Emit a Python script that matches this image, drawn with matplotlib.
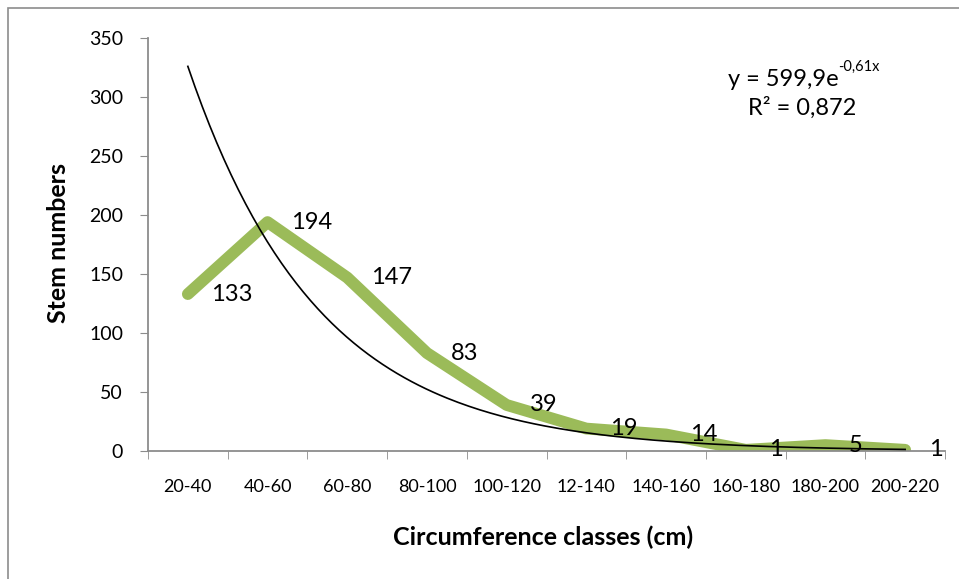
import numpy as np
import matplotlib.pyplot as plt
from matplotlib.patches import Rectangle

plt.rcParams['font.family'] = ['Lato', 'DejaVu Sans']

# 数据
classes = ['20-40', '40-60', '60-80', '80-100', '100-120', '12-140',
           '140-160', '160-180', '180-200', '200-220']
stems = [133, 194, 147, 83, 39, 19, 14, 1, 5, 1]
fit_a = 599.9
fit_b = -0.61
eq_text = 'y = 599,9e'
eq_sup = '-0,61x'
r2_text = 'R² = 0,872'

fig = plt.figure(figsize=(9.59, 5.79), dpi=100)
ax = fig.add_axes([148 / 959, 1 - 451 / 579, 797 / 959, 413 / 579])

# 外框
fig.patches.append(Rectangle((8 / 959, -0.1), 1.2, 1 - 8 / 579 + 0.1,
                             transform=fig.transFigure, fill=False,
                             edgecolor='#8c8c8c', linewidth=1.2))

x = np.arange(len(classes))
ax.plot(x, stems, color='#9bbb59', linewidth=8.5, solid_capstyle='round',
        solid_joinstyle='round', zorder=2)

# 指数趋势线
xs = np.linspace(1, len(classes), 200)
ax.plot(xs - 1, fit_a * np.exp(fit_b * xs), color='black', linewidth=1.2, zorder=3)

# 数据标签
for xi, v in zip(x, stems):
    ax.annotate(str(v), (xi, v), xytext=(17, 0), textcoords='offset points',
                ha='left', va='center', fontsize=17, zorder=4, annotation_clip=False)

t1 = ax.text(0.866, 0.9, eq_text, transform=ax.transAxes,
             ha='right', va='center', fontsize=17)
ax.annotate(eq_sup, xy=(1.0, 0.75), xycoords=t1, ha='left', va='bottom',
            fontsize=10.5)
ax.text(0.821, 0.83, r2_text, transform=ax.transAxes,
        ha='center', va='center', fontsize=17)

ax.set_xlim(-0.5, len(classes) - 0.5)
ax.set_ylim(0, 350)
ax.set_yticks(range(0, 351, 50))
ax.set_xticks(x)
ax.set_xticklabels(classes)
ax.set_xticks(np.arange(-0.5, len(classes), 1), minor=True)
ax.tick_params(axis='x', which='major', length=0, pad=20, labelsize=13)
ax.tick_params(axis='x', which='minor', length=6, color='#8c8c8c', direction='out')
ax.tick_params(axis='y', length=6, color='#8c8c8c', pad=12, labelsize=14)

for s in ['top', 'right']:
    ax.spines[s].set_visible(False)
for s in ['left', 'bottom']:
    ax.spines[s].set_color('#8c8c8c')
    ax.spines[s].set_linewidth(1.3)

fig.text(58 / 959, 1 - 243 / 579, 'Stem numbers', rotation=90, ha='center',
         va='center', fontsize=18, fontweight='bold')
fig.text(543 / 959, 1 - 537 / 579, 'Circumference classes (cm)', ha='center',
         va='center', fontsize=18, fontweight='bold')

fig.savefig('out.png', dpi=100)
